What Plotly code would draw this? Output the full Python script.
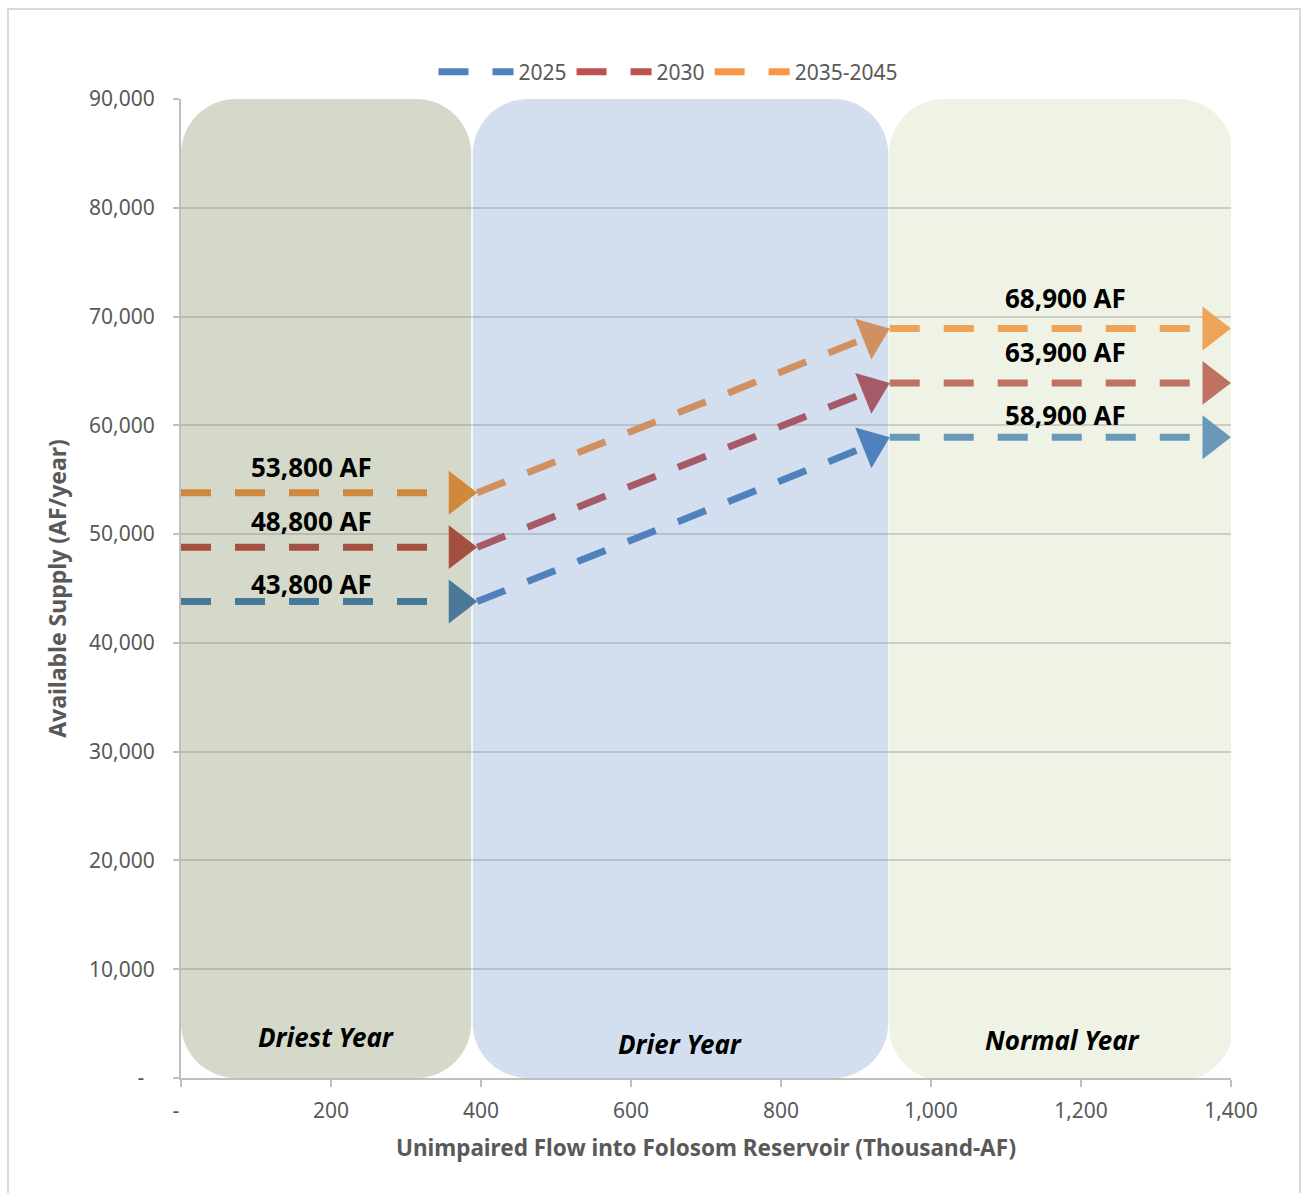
import plotly.graph_objects as go

# ---------------- data ----------------
series_names = ["2025", "2030", "2035-2045"]
dry_supply = [43800, 48800, 53800]        # AF/year in driest years
normal_supply = [58900, 63900, 68900]     # AF/year in normal years
flow_breaks = [0, 395, 945, 1400]         # unimpaired flow (thousand AF) at segment ends

region_names = ["Driest Year", "Drier Year", "Normal Year"]
region_x0 = [0, 389, 944]
region_x1 = [387, 943, 1403]
region_y0 = [0, 0, -280]
region_y1 = [90000, 90000, 90000]
region_label_x = [193, 665, 1175]
region_label_y = [3770, 3125, 3490]

x_tickvals = [0, 200, 400, 600, 800, 1000, 1200, 1400]
x_ticktext = ["-\u2002", "200", "400", "600", "800", "1,000", "1,200", "1,400"]
y_tickvals = [0, 10000, 20000, 30000, 40000, 50000, 60000, 70000, 80000, 90000]
y_ticktext = ["-\u2002", "10,000", "20,000", "30,000", "40,000", "50,000",
              "60,000", "70,000", "80,000", "90,000"]

# ---------------- style ----------------
legend_colors = ["#4F81BD", "#C0504D", "#F79646"]
segment_colors = [
    ["#4A7898", "#4F81BD", "#6A98B8"],
    ["#A44F40", "#A65A68", "#C07262"],
    ["#D0883C", "#D09062", "#EDA458"],
]
region_colors = ["#D4D9C9", "#D3DFEF", "#EFF3E5"]
label_x_dry = 174
label_x_normal = 1179
label_shift_dry = [18, 26, 26]
label_shift_normal = [22, 31, 31]

W, H = 1304, 1193
ML, MR, MT, MB = 181, 73, 99, 115
FONT = "Noto Sans"
GRAY = "#595959"
ARROW = 38

fig = go.Figure()

# series segments with arrowheads
for i, name in enumerate(series_names):
    ys = [dry_supply[i], dry_supply[i], normal_supply[i], normal_supply[i]]
    for s in range(3):
        fig.add_trace(go.Scatter(
            x=[flow_breaks[s], flow_breaks[s + 1]],
            y=[ys[s], ys[s + 1]],
            mode="lines+markers",
            line=dict(color=segment_colors[i][s], width=7, dash="30px,24px", backoff=8),
            marker=dict(symbol="triangle-up", size=[0, ARROW], angleref="previous",
                        standoff=ARROW / 2, opacity=1,
                        color=segment_colors[i][s], line=dict(width=0)),
            showlegend=False, hoverinfo="skip",
        ))

# legend entries
for i, name in enumerate(series_names):
    fig.add_trace(go.Scatter(
        x=[None], y=[None], mode="lines", name=name,
        line=dict(color=legend_colors[i], width=7, dash="30px,24px"),
    ))

# value labels
annotations = []
for i in range(3):
    annotations.append(dict(
        x=label_x_dry, y=dry_supply[i], xref="x", yref="y",
        text=f"{dry_supply[i]:,} AF", showarrow=False, yanchor="middle",
        yshift=label_shift_dry[i], font=dict(family=FONT, size=26, color="#000000", weight="bold"),
    ))
    annotations.append(dict(
        x=label_x_normal, y=normal_supply[i], xref="x", yref="y",
        text=f"{normal_supply[i]:,} AF", showarrow=False, yanchor="middle",
        yshift=label_shift_normal[i], font=dict(family=FONT, size=26, color="#000000", weight="bold"),
    ))
for k, nm in enumerate(region_names):
    annotations.append(dict(
        x=region_label_x[k], y=region_label_y[k], xref="x", yref="y",
        text=f"<b><i>{nm}</i></b>", showarrow=False,
        font=dict(family=FONT, size=26, color="#000000"),
    ))

# rounded region backgrounds
pw = W - ML - MR
ph = H - MT - MB
ux = pw / 1400.0
uy = ph / 90000.0
rad = 55
rx = rad / ux
ry = rad / uy
kap = 0.5523
shapes = []
for k in range(3):
    x0, x1, y0, y1 = region_x0[k], region_x1[k], region_y0[k], region_y1[k]
    p = (f"M{x0+rx},{y1} L{x1-rx},{y1} "
         f"C{x1-rx*(1-kap)},{y1} {x1},{y1-ry*(1-kap)} {x1},{y1-ry} "
         f"L{x1},{y0+ry} "
         f"C{x1},{y0+ry*(1-kap)} {x1-rx*(1-kap)},{y0} {x1-rx},{y0} "
         f"L{x0+rx},{y0} "
         f"C{x0+rx*(1-kap)},{y0} {x0},{y0+ry*(1-kap)} {x0},{y0+ry} "
         f"L{x0},{y1-ry} "
         f"C{x0},{y1-ry*(1-kap)} {x0+rx*(1-kap)},{y1} {x0+rx},{y1} Z")
    shapes.append(dict(type="path", path=p, xref="x", yref="y",
                       fillcolor=region_colors[k], line=dict(width=0), layer="below"))

# outer chart border
shapes.append(dict(type="rect", xref="paper", yref="paper",
                   x0=(8 - ML) / pw, x1=(1300 - ML) / pw,
                   y0=-0.2, y1=(H - MB - 9) / ph,
                   line=dict(color="#D9D9D9", width=2), fillcolor="rgba(0,0,0,0)", layer="below"))

fig.update_layout(
    width=W, height=H,
    margin=dict(l=ML, r=MR, t=MT, b=MB),
    paper_bgcolor="white", plot_bgcolor="white",
    font=dict(family=FONT, color=GRAY),
    shapes=shapes, annotations=annotations,
    legend=dict(orientation="h", x=(668 - ML) / pw, xanchor="center",
                y=(H - MB - 72) / ph, yanchor="middle",
                font=dict(size=21, color=GRAY, family=FONT),
                itemwidth=75, bgcolor="rgba(0,0,0,0)", traceorder="normal"),
    xaxis=dict(range=[0, 1400], tickvals=x_tickvals, ticktext=x_ticktext,
               showgrid=False, zeroline=False, showline=True,
               linecolor="#BFBFBF", linewidth=2,
               ticks="outside", ticklen=7, tickwidth=2, tickcolor="#BFBFBF",
               tickfont=dict(size=21, color=GRAY, family=FONT),
               ticklabelstandoff=6,
               title=dict(text="<b>Unimpaired Flow into Folosom Reservoir (Thousand-AF)</b>",
                          font=dict(size=22.5, color=GRAY, family=FONT), standoff=17)),
    yaxis=dict(range=[0, 90000], tickvals=y_tickvals, ticktext=y_ticktext,
               showgrid=True, gridcolor="rgba(130,130,130,0.33)", gridwidth=2,
               zeroline=False, showline=True,
               linecolor="#BFBFBF", linewidth=2,
               ticks="outside", ticklen=6, tickwidth=2, tickcolor="#BFBFBF",
               tickfont=dict(size=21, color=GRAY, family=FONT),
               ticklabelstandoff=14,
               title=dict(text="<b>Available Supply (AF/year)</b>",
                          font=dict(size=23, color=GRAY, family=FONT), standoff=16)),
)

fig.write_html("out.html")
